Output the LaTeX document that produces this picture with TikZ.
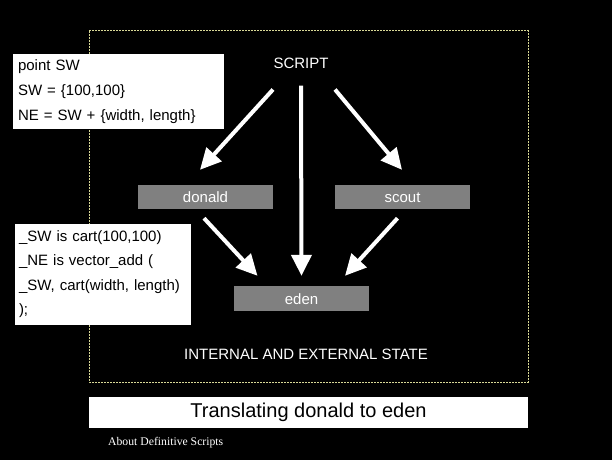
\documentclass[tikz,border=0pt]{standalone}
\usepackage{fontspec}
\setmainfont{Liberation Sans}
\newfontfamily\serifbody{Liberation Serif}
\usetikzlibrary{arrows.meta}
\definecolor{dotyellow}{RGB}{216,216,150}
\definecolor{boxgray}{RGB}{128,128,128}
\tikzset{
  graybox/.style={fill=boxgray, text=white, minimum width=135pt, minimum height=24pt, inner sep=0pt, text height=11pt, text depth=0pt, font=\fontsize{15}{18}\selectfont},
  notebox/.style={fill=white, text=black, align=left, inner sep=0pt, font=\fontsize{15}{25}\selectfont},
  bigarrow/.style={draw=white, line width=4pt, -{Triangle[width=20pt,length=21pt]}},
  lbl/.style={text=white, inner sep=0pt, font=\fontsize{15}{18}\selectfont}
}
\begin{document}
\begin{tikzpicture}[x=1pt,y=-1pt]
\fill[black] (0,0) rectangle (612,460);
\useasboundingbox (0,0) rectangle (612,460);
% dotted frame
\draw[dotyellow, line width=1pt, dash pattern=on 2pt off 1pt] (89,31) rectangle (528,382);
% nodes
\node[lbl] (script) at (301,63) {SCRIPT};
\node[graybox] (donald) at (205.5,197) {donald};
\node[graybox] (scout) at (402.5,197) {scout};
\node[graybox, minimum height=25pt] (eden) at (301.5,298.5) {eden};
\node[lbl] (state) at (306,354) {INTERNAL AND EXTERNAL STATE};
% note boxes
\node[notebox, minimum width=211pt, minimum height=75pt, text width=201pt] (note1) at (118.5,91.5)
  {point SW\\SW = \{100,100\}\\NE = SW + \{width, length\}};
\node[notebox, minimum width=176pt, minimum height=101pt, text width=168pt, font=\fontsize{15}{24.5}\selectfont] (note2) at (103,274)
  {\_SW is cart(100,100)\\\_NE is vector\_add (\\\_SW, cart(width, length)\\);};
% title bar
\node[fill=white, text=black, minimum width=439pt, minimum height=31pt, inner sep=0pt, font=\fontsize{20}{24}\selectfont] (title) at (308.5,412.5) {Translating donald to eden};
\node[text=white, inner sep=0pt, anchor=west, font=\serifbody\fontsize{11.7}{14}\selectfont] (footer) at (108,443) {About Definitive Scripts};
% arrows
\draw[bigarrow] ([shift={(-28,21)}]script.south) -- ([shift={(-5.5,-15)}]donald.north);
\draw[bigarrow] ([shift={(34,21)}]script.south) -- ([shift={(-0.5,-15)}]scout.north);
\draw[bigarrow] ([shift={(0,17)}]script.south) -- ([shift={(0,-10)}]eden.north);
\draw[bigarrow] ([shift={(-1.5,9)}]donald.south) -- ([shift={(-44,-10)}]eden.north);
\draw[bigarrow] ([shift={(-5,9)}]scout.south) -- ([shift={(43.5,-10)}]eden.north);
\end{tikzpicture}
\end{document}
